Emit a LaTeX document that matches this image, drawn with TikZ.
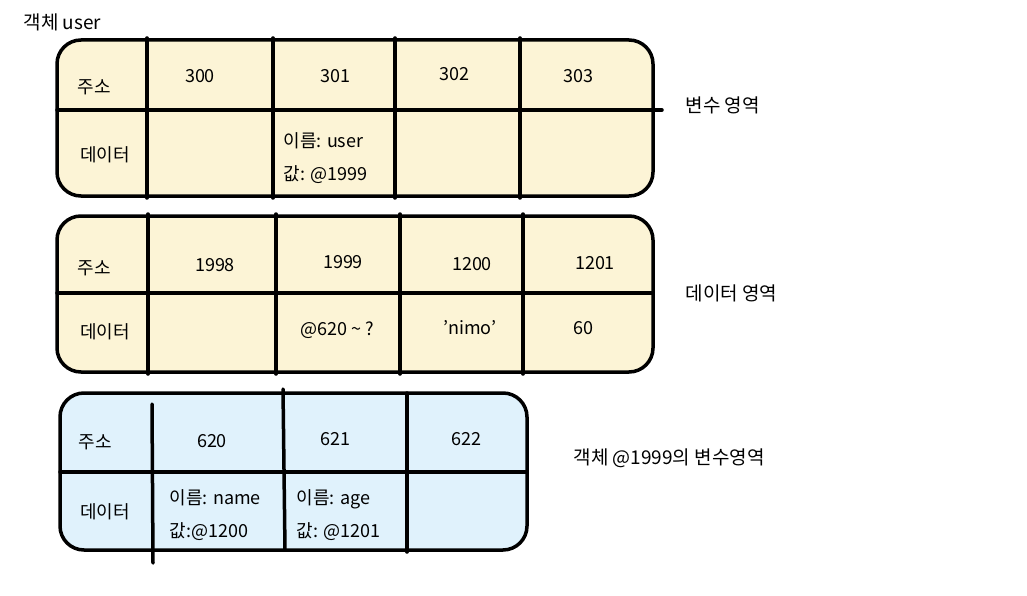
\documentclass[tikz,border=0pt]{standalone}
\usepackage{fontspec}
\setmainfont{Noto Sans CJK KR}
\usetikzlibrary{positioning}
\definecolor{memyellow}{HTML}{FCF4D6}
\definecolor{memblue}{HTML}{E0F2FC}

\begin{document}
\begin{tikzpicture}[x=1pt, y=-1pt,
        region/.style={draw=black, line width=3.5pt, rounded corners=24pt},
        divider/.style={line width=3.5pt, line cap=round},
        cell/.style={font=\fontsize{18}{20}\selectfont, anchor=center},
        pair/.style={font=\fontsize{18}{33}\selectfont, anchor=west, align=left},
        caption/.style={font=\fontsize{19}{22}\selectfont, anchor=west}
    ]
            \useasboundingbox (0,0) rectangle (1027,596);

            % variables of user
            \node[caption] (usertitle) at (20,22) {객체 user};
            \draw[region, fill=memyellow] (57,40) rectangle (653,196);
            \draw[divider] (57,110) -- (662,110);
            \foreach \x in {147,273,395,520} {
                \draw[divider] (\x,38) -- (\x,198);
            }
            \node[cell] (addr1) at (94,87) {주소};
            \node[cell] (data1) at (105,155) {데이터};
            \node[cell] (c300) at (200,76) {300};
            \node[cell] (c301) at (335,76) {301};
            \node[cell] (c302) at (454,74) {302};
            \node[cell] (c303) at (578,76) {303};
            \node[pair] (v301) at (280,158) {이름: user\\값: @1999};
            \node[caption] (varzone) at (682,105) {변수 영역};

            % data
            \draw[region, fill=memyellow] (57,216) rectangle (653,372);
            \draw[divider] (57,293) -- (653,293);
            \foreach \x in {148,276,400,523} {
                \draw[divider] (\x,214) -- (\x,374);
            }
            \node[cell] (addr2) at (94,268) {주소};
            \node[cell] (data2) at (105,332) {데이터};
            \node[cell] (c1998) at (215,265) {1998};
            \node[cell] (c1999) at (343,262) {1999};
            \node[cell] (c1200) at (472,264) {1200};
            \node[cell] (c1201) at (595,263) {1201};
            \node[cell] (d1999) at (337,330) {@620 \textasciitilde{} ?};
            \node[cell] (d1200) at (470,328) {'nimo'};
            \node[cell] (d1201) at (583,328) {60};
            \node[caption] (datazone) at (682,293) {데이터 영역};

            % variables of @1999
            \draw[region, fill=memblue] (60,393) rectangle (527,550);
            \draw[divider] (60,472) -- (527,472);
            \draw[divider] (152,404) -- (153,563);
            \draw[divider] (283,389) -- (285,550);
            \draw[divider] (407,393) -- (407,552);
            \node[cell] (addr3) at (95,442) {주소};
            \node[cell] (data3) at (105,512) {데이터};
            \node[cell] (c620) at (212,441) {620};
            \node[cell] (c621) at (335,439) {621};
            \node[cell] (c622) at (466,439) {622};
            \node[pair] (v620) at (166,515) {이름: name\\값:@1200};
            \node[pair] (v621) at (293,515) {이름: age\\값: @1201};
            \node[caption] (objzone) at (570,458) {객체 @1999의 변수영역};
    \end{tikzpicture}
\end{document}
